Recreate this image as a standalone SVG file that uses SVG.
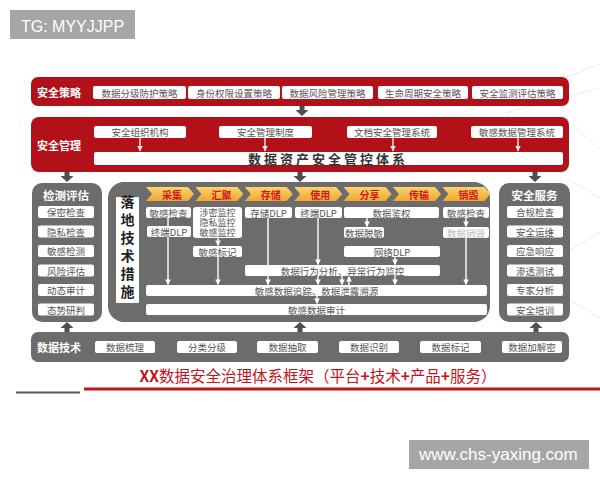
<svg xmlns="http://www.w3.org/2000/svg" width="600" height="480" viewBox="0 0 600 480">
<defs>
<style>
text{font-family:"Noto Sans CJK SC","Liberation Sans",sans-serif;}
.red{fill:#b3111a;}
.gp{fill:#6c6c6c;}
.wb{fill:#fff;}
.bt{font-size:9.5px;fill:#555;text-anchor:middle;dominant-baseline:central;}
.hd{font-size:11px;font-weight:bold;fill:#fff;dominant-baseline:central;}
.hc{font-size:11.5px;font-weight:bold;fill:#fff;text-anchor:middle;dominant-baseline:central;}
.ch{fill:url(#cg);}
.cht{font-size:10px;font-weight:bold;fill:#d3141c;text-anchor:middle;dominant-baseline:central;}
.wl{stroke:#fff;stroke-width:1.4;fill:none;marker-end:url(#wa);}
.rl{stroke:#fbe3e3;stroke-width:1.4;fill:none;marker-end:url(#ra);}
.da{fill:#4f4f4f;}
.deco{stroke:#ececec;stroke-width:1;fill:none;}
.vt{font-size:14px;font-weight:bold;fill:#222;text-anchor:middle;writing-mode:vertical-rl;letter-spacing:4px;}
</style>
<linearGradient id="cg" x1="0" y1="0" x2="0" y2="1"><stop offset="0" stop-color="#fcd56e"/><stop offset="1" stop-color="#f1a62e"/></linearGradient>
<marker id="wa" viewBox="0 0 10 10" refX="9" refY="5" markerWidth="4" markerHeight="4" orient="auto"><path d="M0,0 L10,5 L0,10 z" fill="#fff"/></marker>
<marker id="ra" viewBox="0 0 10 10" refX="9" refY="5" markerWidth="4" markerHeight="4" orient="auto"><path d="M0,0 L10,5 L0,10 z" fill="#fbe3e3"/></marker>
<path id="dn" d="M-2.5,0 h5 v4 h4 l-6.5,6 l-6.5,-6 h4 z"/>
<path id="up" d="M-2.5,10 h5 v-4 h4 l-6.5,-6 l-6.5,6 h4 z"/>
</defs>
<rect width="600" height="480" fill="#fff"/>
<g id="decoration">
<path class="deco" d="M567,77 L600,64"/>
<path class="deco" d="M505,113 L600,88"/>
<path class="deco" d="M560,112 L600,150"/>
<path class="deco" d="M570,180 L600,198 M570,250 L600,232 M570,300 L600,318"/>
</g>
<g id="tg">
<rect x="10" y="10" width="125" height="29" fill="#a6a6a6"/>
<text x="21" y="32" font-size="16" fill="#fff" style="font-family:'Liberation Sans',sans-serif">TG: MYYJJPP</text>
</g>

<g id="band-policy">
<rect class="red" x="31" y="77" width="538" height="29" rx="7"/>
<text class="hd" x="37" y="92">安全策略</text>
<rect class="wb" x="93" y="86" width="93" height="13" rx="2"/><text class="bt" x="139.5" y="92.5">数据分级防护策略</text>
<rect class="wb" x="188" y="86" width="92" height="13" rx="2"/><text class="bt" x="234" y="92.5">身份权限设置策略</text>
<rect class="wb" x="282" y="86" width="91" height="13" rx="2"/><text class="bt" x="327.5" y="92.5">数据风险管理策略</text>
<rect class="wb" x="378" y="86" width="90" height="13" rx="2"/><text class="bt" x="423" y="92.5">生命周期安全策略</text>
<rect class="wb" x="472" y="86" width="91" height="13" rx="2"/><text class="bt" x="517.5" y="92.5">安全监测评估策略</text>
</g>

<g id="band-management">
<rect class="red" x="31" y="117" width="538" height="55" rx="8"/>
<text class="hd" x="37" y="145">安全管理</text>
<rect class="wb" x="94" y="126" width="92" height="12" rx="2"/><text class="bt" x="140" y="132">安全组织机构</text>
<rect class="wb" x="219" y="126" width="93" height="12" rx="2"/><text class="bt" x="265.5" y="132">安全管理制度</text>
<rect class="wb" x="347" y="126" width="90" height="12" rx="2"/><text class="bt" x="392" y="132">文档安全管理系统</text>
<rect class="wb" x="471" y="126" width="92" height="12" rx="2"/><text class="bt" x="517" y="132">敏感数据管理系统</text>
<rect class="wb" x="94" y="152" width="469" height="13" rx="2"/>
<text x="328" y="158.5" font-size="13" font-weight="bold" fill="#333" text-anchor="middle" dominant-baseline="central" letter-spacing="3">数据资产安全管控体系</text>
</g>

<g id="panel-detect">
<rect class="gp" x="32" y="183" width="70" height="139" rx="10"/>
<text class="hc" x="66" y="195">检测评估</text>
<rect class="wb" x="38" y="206" width="56" height="12" rx="2"/><text class="bt" x="66" y="212">保密检查</text>
<rect class="wb" x="38" y="225.5" width="56" height="12" rx="2"/><text class="bt" x="66" y="231.5">隐私检查</text>
<rect class="wb" x="38" y="245" width="56" height="12" rx="2"/><text class="bt" x="66" y="251">敏感检测</text>
<rect class="wb" x="38" y="264.5" width="56" height="12" rx="2"/><text class="bt" x="66" y="270.5">风险评估</text>
<rect class="wb" x="38" y="284" width="56" height="12" rx="2"/><text class="bt" x="66" y="290">动态审计</text>
<rect class="wb" x="38" y="303.5" width="56" height="12" rx="2"/><text class="bt" x="66" y="309.5">态势研判</text>
</g>

<g id="panel-service">
<rect class="gp" x="499" y="183" width="71" height="139" rx="10"/>
<text class="hc" x="534.5" y="195">安全服务</text>
<rect class="wb" x="507" y="206" width="56" height="12" rx="2"/><text class="bt" x="535" y="212">合规检查</text>
<rect class="wb" x="507" y="225.5" width="56" height="12" rx="2"/><text class="bt" x="535" y="231.5">安全运维</text>
<rect class="wb" x="507" y="245" width="56" height="12" rx="2"/><text class="bt" x="535" y="251">应急响应</text>
<rect class="wb" x="507" y="264.5" width="56" height="12" rx="2"/><text class="bt" x="535" y="270.5">渗透测试</text>
<rect class="wb" x="507" y="284" width="56" height="12" rx="2"/><text class="bt" x="535" y="290">专家分析</text>
<rect class="wb" x="507" y="303.5" width="56" height="12" rx="2"/><text class="bt" x="535" y="309.5">安全培训</text>
</g>

<g id="panel-tech">
<rect class="gp" x="108" y="182" width="382" height="140" rx="16"/>
<rect class="wb" x="116" y="197" width="23" height="106" rx="1"/>
<text class="vt" x="127.5" y="249">落地技术措施</text>
</g>

<g id="stages">
<path class="ch" d="M146,187 h42 l6,7 l-6,7 h-42 l6,-7 z"/><text class="cht" x="172" y="194">采集</text>
<path class="ch" d="M195.4,187 h42 l6,7 l-6,7 h-42 l6,-7 z"/><text class="cht" x="221.4" y="194">汇聚</text>
<path class="ch" d="M244.8,187 h42 l6,7 l-6,7 h-42 l6,-7 z"/><text class="cht" x="270.8" y="194">存储</text>
<path class="ch" d="M294.2,187 h42 l6,7 l-6,7 h-42 l6,-7 z"/><text class="cht" x="320.2" y="194">使用</text>
<path class="ch" d="M343.6,187 h42 l6,7 l-6,7 h-42 l6,-7 z"/><text class="cht" x="369.6" y="194">分享</text>
<path class="ch" d="M393,187 h42 l6,7 l-6,7 h-42 l6,-7 z"/><text class="cht" x="419" y="194">传输</text>
<path class="ch" d="M442.4,187 h42 l6,7 l-6,7 h-42 l6,-7 z"/><text class="cht" x="468.4" y="194">销毁</text>
</g>

<g id="connectors">
<use href="#dn" class="da" x="302" y="106"/>
<use href="#dn" class="da" x="67" y="172"/>
<use href="#dn" class="da" x="300" y="172"/>
<use href="#dn" class="da" x="535" y="172"/>
<use href="#up" class="da" x="67" y="322"/>
<use href="#up" class="da" x="300" y="322"/>
<use href="#up" class="da" x="536" y="322"/>
<path class="rl" d="M140,138 V151"/>
<path class="rl" d="M265,138 V151"/>
<path class="rl" d="M393,138 V151"/>
<path class="rl" d="M518,138 V151"/>
<path class="wl" d="M168,218 V284.5"/>
<path class="wl" d="M218,238 V245.5"/>
<path class="wl" d="M218,257 V284.5"/>
<path class="wl" d="M268,218 V284.5"/>
<path class="wl" d="M318,218 V264.5"/>
<path class="wl" d="M318,276 V284.5"/>
<path class="wl" d="M367,218 V226.5"/>
<path class="wl" d="M395,257 V264.5"/>
<path class="wl" d="M395,276 V284.5"/>
<path class="wl" d="M342,276 V284.5"/>
<path class="wl" d="M349,285 V276.5"/>
<path class="wl" d="M466,218 V226.5"/>
<path class="wl" d="M466,238 V284.5"/>
<path class="wl" d="M317,296 V303.5"/>
</g>

<g id="tech-boxes">
<rect class="wb" x="146" y="207" width="45" height="11" rx="2"/><text class="bt" x="168.5" y="212.5">敏感检查</text>
<rect class="wb" x="147" y="226" width="44" height="11" rx="2"/><text class="bt" x="169" y="231.5">终端DLP</text>
<rect class="wb" x="193" y="207" width="49" height="31" rx="3"/>
<text class="bt" x="217.5" y="212.5" style="font-size:9px">涉密监控</text>
<text class="bt" x="217.5" y="222.5" style="font-size:9px">隐私监控</text>
<text class="bt" x="217.5" y="232.5" style="font-size:9px">敏感监控</text>
<rect class="wb" x="193" y="246" width="49" height="11" rx="2"/><text class="bt" x="217.5" y="251.5">敏感标记</text>
<rect class="wb" x="245" y="207" width="47" height="11" rx="2"/><text class="bt" x="268.5" y="212.5">存储DLP</text>
<rect class="wb" x="295" y="207" width="47" height="11" rx="2"/><text class="bt" x="318.5" y="212.5">终端DLP</text>
<rect class="wb" x="344" y="207" width="95" height="11" rx="2"/><text class="bt" x="391.5" y="212.5">数据鉴权</text>
<rect class="wb" x="344" y="227" width="40" height="11" rx="2"/><text class="bt" x="364" y="232.5">数据脱敏</text>
<rect class="wb" x="344" y="246" width="96" height="11" rx="2"/><text class="bt" x="392" y="251.5">网络DLP</text>
<rect class="wb" x="443" y="207" width="46" height="11" rx="2"/><text class="bt" x="466" y="212.5">敏感检查</text>
<rect class="wb" x="443" y="227" width="46" height="11" rx="2"/><text class="bt" x="466" y="232.5" style="fill:#bdbdbd">数据销毁</text>
<rect class="wb" x="245" y="265" width="195" height="11" rx="2"/><text class="bt" x="342.5" y="270.5">数据行为分析、异常行为监控</text>
<rect class="wb" x="146" y="285" width="341" height="11" rx="2"/><text class="bt" x="316.5" y="290.5">敏感数据追踪、数据泄露溯源</text>
<rect class="wb" x="146" y="304" width="341" height="11" rx="2"/><text class="bt" x="316.5" y="309.5">敏感数据审计</text>
</g>

<g id="band-data">
<rect class="gp" x="31" y="332" width="538" height="30" rx="7"/>
<text class="hd" x="37" y="347">数据技术</text>
<rect class="wb" x="95" y="341" width="60" height="12" rx="2"/><text class="bt" x="125" y="347">数据梳理</text>
<rect class="wb" x="177" y="341" width="60" height="12" rx="2"/><text class="bt" x="207" y="347">分类分级</text>
<rect class="wb" x="257" y="341" width="61" height="12" rx="2"/><text class="bt" x="287.5" y="347">数据抽取</text>
<rect class="wb" x="339" y="341" width="60" height="12" rx="2"/><text class="bt" x="369" y="347">数据识别</text>
<rect class="wb" x="420" y="341" width="61" height="12" rx="2"/><text class="bt" x="450.5" y="347">数据标记</text>
<rect class="wb" x="502" y="341" width="60" height="12" rx="2"/><text class="bt" x="532" y="347">数据加解密</text>
</g>

<g id="title">
<text x="318" y="375" font-size="15.5" fill="#c0141c" text-anchor="middle" dominant-baseline="central"><tspan font-weight="bold">XX</tspan>数据安全治理体系框架（平台<tspan font-weight="bold">+</tspan>技术<tspan font-weight="bold">+</tspan>产品<tspan font-weight="bold">+</tspan>服务）</text>
<path d="M16,392.5 H80" stroke="#555" stroke-width="2"/>
<path d="M84,389 H600" stroke="#c0141c" stroke-width="3"/>
</g>

<g id="watermark">
<rect x="409" y="440" width="180" height="29" fill="#a6a6a6"/>
<text x="419" y="460" font-size="17" fill="#fff" style="font-family:'Liberation Sans',sans-serif">www.chs-yaxing.com</text>
</g>
</svg>
